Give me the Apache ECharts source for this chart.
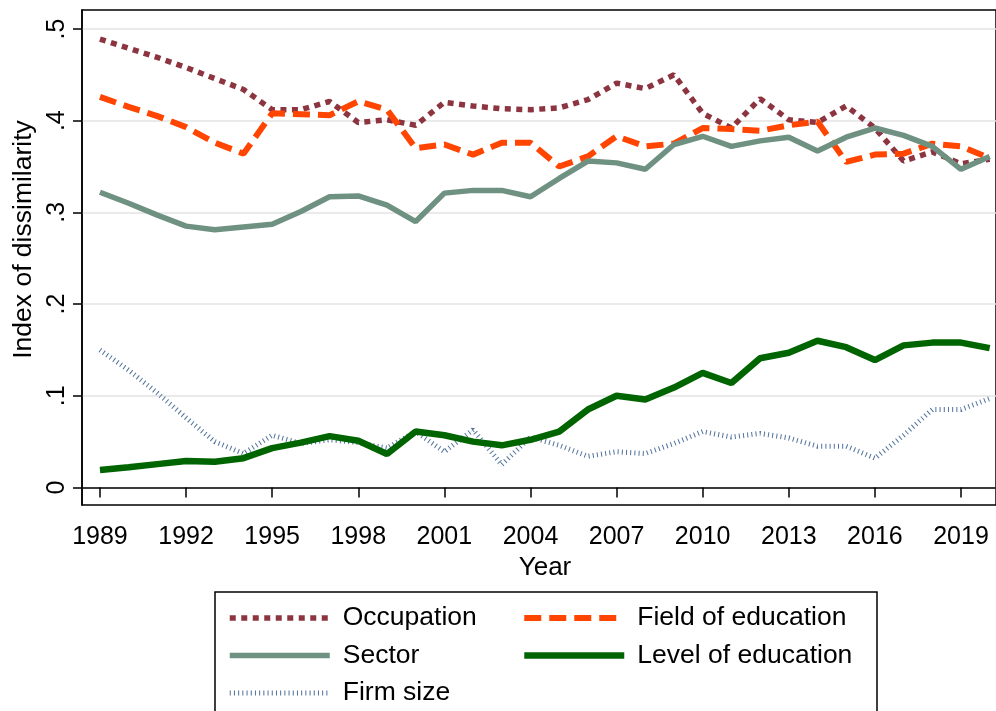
<!DOCTYPE html>
<html>
<head>
<meta charset="utf-8">
<script src="https://cdn.jsdelivr.net/npm/echarts@6/dist/echarts.min.js"></script>
<style>
html,body{margin:0;padding:0;background:#fff;}
#chart{width:996px;height:711px;}
</style>
</head>
<body>
<div id="chart"></div>
<script>
// ---- data ----
const years = [1989,1990,1991,1992,1993,1994,1995,1996,1997,1998,1999,2000,2001,2002,2003,2004,2005,2006,2007,2008,2009,2010,2011,2012,2013,2014,2015,2016,2017,2018,2019,2020];
const occupation = [.489,.479,.469,.458,.446,.434,.412,.412,.421,.398,.401, .395,.420,.416,.413,.412,.414,.423,.441,.435,.450, .408,.392,.424,.401,.398,.416,.392,.356,.366,.353,.358];
const fieldEdu   = [.426,.415,.405,.393,.376,.364,.408,.407,.406,.421,.412, .370,.374,.363,.376,.376,.350,.361,.383,.372,.375, .392,.391,.389,.395,.399,.355,.363,.364,.375,.372,.359];
const sector     = [.322,.310,.297,.285,.281,.284,.287,.301,.317,.318,.308, .290,.321,.324,.324,.317,.337,.356,.354,.347,.374, .383,.372,.378,.382,.367,.382,.392,.384,.372,.347,.361];
const levelEdu   = [.019,.022,.0255,.029,.028,.032,.043,.049,.056,.051,.0365, .061,.057,.050,.046,.052,.061,.085,.100,.096,.109, .125,.114,.141,.147,.160,.153,.139,.155,.158,.158,.152];
const firmSize   = [.150,.128,.103,.076,.050,.037,.057,.048,.052,.049,.043, .061,.039,.063,.025,.055,.046,.034,.039,.037,.048, .061,.055,.059,.054,.045,.045,.032,.057,.085,.085,.097];
const seriesNames = ['Occupation','Field of education','Sector','Level of education','Firm size'];
const xTicks = [1989,1992,1995,1998,2001,2004,2007,2010,2013,2016,2019];
const yTicks = [0,0.1,0.2,0.3,0.4,0.5];
const yTickLabels = ['0','.1','.2','.3','.4','.5'];

const FONT = '"Liberation Sans", Arial, Helvetica, sans-serif';
const pair = arr => years.map((y,i)=>[y, arr[i]]);

const chart = echarts.init(document.getElementById('chart'), null, {renderer:'canvas'});
const legendCommon = {
  orient:'vertical', padding:0, itemGap:7.5, itemWidth:100, itemHeight:14,
  textStyle:{fontFamily:FONT, fontSize:26.5, color:'#000', lineHeight:30, padding:[0,0,0,8]},
  lineStyle:{width:'inherit'},
  itemStyle:{opacity:0},
  selectedMode:false
};
chart.setOption({
  animation:false,
  backgroundColor:'#fff',
  textStyle:{fontFamily:FONT},
  grid:{left:82, right:-2, top:10, bottom:206, show:true, borderColor:'#000', borderWidth:1.5, backgroundColor:'transparent'},
  xAxis:{
    type:'value', min:1988.374, max:2020.22,
    name:'Year', nameLocation:'middle', nameGap:46,
    nameTextStyle:{fontFamily:FONT, fontSize:26, color:'#000', padding:[0,0,0,12]},
    axisLine:{show:true, lineStyle:{color:'#000', width:1.5}},
    axisTick:{show:true, length:10, customValues:xTicks, lineStyle:{color:'#000', width:1.5}},
    axisLabel:{customValues:xTicks, fontFamily:FONT, fontSize:25, color:'#000', margin:20, formatter:v=>String(v)},
    splitLine:{show:false}
  },
  yAxis:{
    type:'value', min:-0.01908, max:0.5207,
    name:'Index of dissimilarity', nameLocation:'middle', nameGap:38, nameRotate:90,
    nameTextStyle:{fontFamily:FONT, fontSize:26.5, color:'#000', padding:[0,0,0,36]},
    axisLine:{show:true, lineStyle:{color:'#000', width:1.5}},
    axisTick:{show:true, length:9, customValues:yTicks, lineStyle:{color:'#000', width:1.5}},
    axisLabel:{customValues:yTicks, rotate:90, fontFamily:FONT, fontSize:25, color:'#000', margin:12,
      formatter:v=>{const i=yTicks.findIndex(t=>Math.abs(t-v)<1e-9); return i>=0?yTickLabels[i]:'';}},
    splitLine:{show:true, lineStyle:{color:'#e3e3e3', width:1.5}}
  },
  legend:[
    Object.assign({left:227, top:603, data:[seriesNames[0], seriesNames[2], seriesNames[4]]}, legendCommon),
    Object.assign({left:521, top:603, data:[seriesNames[1], seriesNames[3]]}, legendCommon)
  ],
  graphic:[{type:'rect', shape:{x:215, y:592, width:662, height:140}, style:{fill:'none', stroke:'#000', lineWidth:1.5}, silent:true}],
  series:[
    {name:seriesNames[4], type:'line', symbol:'none', data:pair(firmSize), z:2,
      lineStyle:{color:'#4F709B', width:5, type:[1,3.2], cap:'butt'}, itemStyle:{color:'#4F709B'}},
    {name:seriesNames[0], type:'line', symbol:'none', data:pair(occupation), z:3,
      lineStyle:{color:'#8C3440', width:5.5, type:[6,5.5], cap:'butt'}, itemStyle:{color:'#8C3440'}},
    {name:seriesNames[1], type:'line', symbol:'none', data:pair(fieldEdu), z:4,
      lineStyle:{color:'#FF4500', width:6, type:[17,8], cap:'butt'}, itemStyle:{color:'#FF4500'}},
    {name:seriesNames[2], type:'line', symbol:'none', data:pair(sector), z:5,
      lineStyle:{color:'#6F9182', width:5.5, type:'solid'}, itemStyle:{color:'#6F9182'}},
    {name:seriesNames[3], type:'line', symbol:'none', data:pair(levelEdu), z:6,
      lineStyle:{color:'#006400', width:6.5, type:'solid'}, itemStyle:{color:'#006400'}}
  ]
});
</script>
</body>
</html>
